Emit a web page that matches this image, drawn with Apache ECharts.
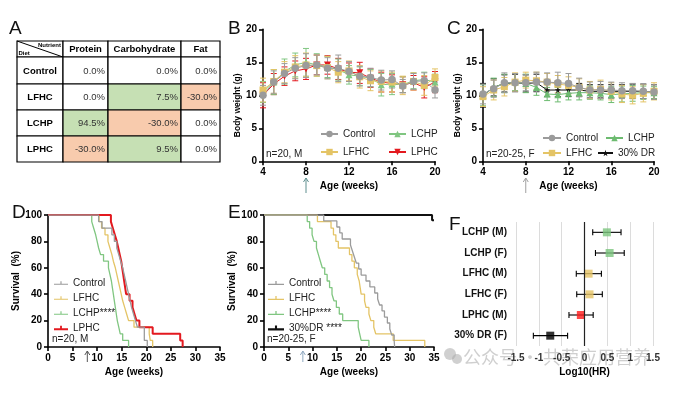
<!DOCTYPE html>
<html><head><meta charset="utf-8">
<script src="https://cdn.jsdelivr.net/npm/echarts@6/dist/echarts.min.js"></script>
<style>html,body{margin:0;padding:0;background:#fff}#c{width:676px;height:394px}</style>
</head><body><div id="c"></div>
<script>
// ---------------- DATA ----------------
// Panel A
const nutrients = ['Protein', 'Carbohydrate', 'Fat'];
const diets = ['Control', 'LFHC', 'LCHP', 'LPHC'];
const dietChange = [[0, 0, 0], [0, 7.5, -30], [94.5, -30, 0], [-30, 9.5, 0]];

// Panels B / C (age in weeks)
const weeks = [4, 5, 6, 7, 8, 9, 10, 11, 12, 13, 14, 15, 16, 17, 18, 19, 20];
const bControl = [10.0, 12.0, 13.3, 14.1, 14.5, 14.6, 14.1, 14.1, 13.6, 12.9, 12.7, 12.3, 12.4, 11.4, 12.1, 12.2, 10.8];
const bControlSd = [1.5, 1.7, 1.5, 1.6, 1.8, 1.5, 1.6, 2.0, 1.5, 1.5, 1.4, 1.5, 1.3, 1.0, 1.2, 1.2, 1.2];
const bLFHC = [10.8, 12.1, 13.5, 14.3, 14.6, 14.5, 14.2, 13.5, 13.7, 12.8, 12.2, 12.1, 12.0, 11.5, 12.1, 11.5, 12.7];
const bLFHCSd = [1.8, 1.8, 1.6, 1.7, 1.8, 1.6, 1.7, 1.6, 1.5, 1.7, 1.5, 1.6, 1.5, 1.4, 1.3, 1.5, 1.3];
const bLCHP = [10.5, 12.0, 13.6, 14.6, 15.0, 14.6, 14.3, 13.9, 13.1, 12.9, 12.6, 11.6, 11.7, 11.6, 12.2, 12.4, 12.0];
const bLCHPSd = [1.6, 1.9, 1.9, 1.8, 2.1, 1.7, 1.6, 1.6, 1.4, 1.4, 1.3, 1.7, 1.6, 1.2, 1.2, 1.1, 1.2];
const bLPHC = [10.0, 11.7, 12.9, 13.7, 14.0, 14.6, 14.6, 14.0, 13.5, 13.4, 12.6, 12.0, 11.8, 11.6, 11.9, 11.2, 12.0];
const bLPHCSd = [1.9, 1.6, 1.4, 1.5, 1.6, 1.5, 1.4, 1.6, 1.4, 1.6, 1.4, 1.5, 1.3, 1.2, 1.1, 1.6, 1.6];

const cControl = [10.2, 11.0, 11.9, 11.9, 11.9, 12.0, 12.0, 11.9, 11.8, 11.2, 10.8, 10.8, 10.8, 10.7, 10.7, 10.6, 10.5];
const cControlSd = [1.5, 1.3, 1.5, 1.4, 1.2, 1.5, 1.4, 1.6, 1.5, 1.4, 1.2, 1.3, 1.2, 1.2, 1.1, 1.1, 1.1];
const cLFHC = [9.8, 10.8, 11.3, 12.0, 12.3, 12.2, 12.0, 11.7, 11.5, 11.2, 10.8, 10.9, 10.6, 10.2, 10.0, 10.3, 10.6];
const cLFHCSd = [1.5, 1.5, 1.4, 1.4, 1.2, 1.3, 1.3, 1.3, 1.3, 1.3, 1.3, 1.4, 1.3, 1.3, 1.3, 1.3, 1.3];
const cLCHP = [10.0, 11.2, 11.8, 12.0, 11.8, 11.2, 10.2, 10.1, 10.3, 10.4, 10.4, 10.3, 10.1, 10.2, 10.3, 10.4, 10.4];
const cLCHPSd = [1.6, 1.4, 1.4, 1.3, 1.4, 1.2, 1.0, 1.1, 1.0, 1.1, 1.0, 1.0, 1.2, 1.2, 1.2, 1.0, 0.9];
const cDR = [10.0, 11.2, 11.8, 11.9, 11.8, 11.9, 10.8, 10.8, 10.8, 10.8, 10.6, 10.6, 10.6, 10.6, 10.6, 10.6, 10.5];
const cDRSd = [1.8, 1.3, 1.3, 1.3, 1.3, 1.3, 1.0, 1.0, 1.0, 1.0, 1.0, 1.0, 1.0, 1.0, 1.1, 1.1, 1.1];

// Panel D survival (male): event times (weeks) and survival (%) after each event
const dControlT = [10.3, 11.0, 13.0, 13.5, 14.0, 14.4, 14.8, 15.2, 15.5, 15.8, 16.1, 16.4, 16.7, 17.0, 17.4, 17.8, 18.2, 19.6, 19.6, 20.2];
const dControlS = [95, 90, 85, 80, 75, 70, 65, 60, 55, 50, 45, 40, 35, 30, 25, 20, 15, 10, 5, 0];
const dLFHCT = [10.4, 10.9, 11.6, 12.2, 12.6, 13.0, 13.3, 13.7, 14.0, 14.3, 14.6, 14.9, 15.2, 15.6, 16.0, 16.4, 17.5, 20.6, 20.8, 21.3];
const dLFHCS = [95, 90, 85, 80, 75, 70, 65, 60, 55, 50, 45, 40, 35, 30, 25, 20, 15, 10, 5, 0];
const dLCHPT = [8.9, 9.3, 9.7, 10.0, 10.3, 10.7, 11.3, 12.3, 12.6, 12.9, 13.1, 13.3, 13.5, 13.7, 13.9, 14.1, 14.4, 14.7, 15.2, 16.4];
const dLCHPS = [95, 90, 85, 80, 75, 70, 65, 60, 55, 50, 45, 40, 35, 30, 25, 20, 15, 10, 5, 0];
const dLPHCT = [12.8, 13.2, 13.6, 14.0, 14.3, 14.6, 14.9, 15.1, 15.3, 15.5, 15.7, 15.9, 16.6, 17.2, 17.6, 18.0, 18.6, 21.3, 26.9, 27.4];
const dLPHCS = [95, 90, 85, 80, 75, 70, 65, 60, 55, 50, 45, 40, 35, 30, 25, 20, 15, 10, 5, 0];

// Panel E survival (female)
const eControlT = [12.3, 15.0, 15.6, 16.1, 17.8, 18.2, 18.6, 19.0, 19.5, 20.0, 21.0, 21.8, 22.8, 23.4, 23.8, 24.3, 24.8, 25.4, 25.9, 26.3, 26.8, 26.9];
const eControlS = [95.5, 90.9, 86.4, 81.8, 77.3, 72.7, 68.2, 63.6, 59.1, 54.5, 50.0, 45.5, 40.9, 36.4, 31.8, 27.3, 22.7, 18.2, 13.6, 9.1, 4.5, 0];
const eLFHCT = [11.0, 13.8, 14.3, 14.8, 15.3, 17.6, 18.1, 18.6, 19.2, 19.6, 19.8, 20.0, 20.7, 21.0, 21.6, 22.0, 22.6, 23.0, 26.6, 33.1];
const eLFHCS = [95, 90, 85, 80, 75, 70, 65, 60, 55, 50, 45, 40, 35, 30, 25, 20, 15, 10, 5, 0];
const eLCHPT = [8.9, 9.4, 9.9, 10.3, 10.8, 11.2, 11.6, 12.0, 12.5, 13.0, 13.5, 14.0, 14.4, 14.9, 15.5, 16.2, 19.4, 19.7, 20.0, 21.6];
const eLCHPS = [95, 90, 85, 80, 75, 70, 65, 60, 55, 50, 45, 40, 35, 30, 25, 20, 15, 10, 5, 0];
const eDRT = [34.6, 35.0];
const eDRS = [96, 96];

// Panel F hazard ratios
const hrLabels = ['LCHP (M)', 'LCHP (F)', 'LFHC (M)', 'LFHC (F)', 'LPHC (M)', '30% DR (F)'];
const hrLog = [0.49, 0.55, 0.09, 0.11, -0.08, -0.75];
const hrLow = [0.18, 0.24, -0.18, -0.17, -0.34, -1.12];
const hrHigh = [0.80, 0.87, 0.37, 0.39, 0.19, -0.37];

// ---------------- STYLE ----------------
const FF = 'Arial, "Liberation Sans", Helvetica, sans-serif';
const GRAY = '#9b9b9b', YEL = '#e4c466', GRN = '#80c681', RED = '#e3191f', BLK = '#111111';
const GREEN_CELL = '#c6e0b4', ORANGE_CELL = '#f8cbad';
const hrColors = ['#7cc67e', '#7cc67e', '#e6c467', '#e6c467', '#ff1a1a', '#000000'];

// table layout (axis units)
const colEdges = [0, 46, 91, 164, 203];
const rowEdges = [0, 16, 43, 69, 95, 121];

const cells = [];
cells.push({r: 0, c: 0, kind: 'corner'});
nutrients.forEach((n, j) => cells.push({r: 0, c: j + 1, kind: 'head', text: n}));
diets.forEach((d, i) => {
  cells.push({r: i + 1, c: 0, kind: 'rowhead', text: d});
  dietChange[i].forEach((v, j) => cells.push({r: i + 1, c: j + 1, kind: 'val', v: v}));
});

function renderCell(params, api) {
  const cell = cells[params.dataIndex];
  const p0 = api.coord([colEdges[cell.c], rowEdges[cell.r]]);
  const p1 = api.coord([colEdges[cell.c + 1], rowEdges[cell.r + 1]]);
  const x = p0[0], y = p0[1], w = p1[0] - p0[0], h = p1[1] - p0[1];
  let fill = '#fff';
  if (cell.kind === 'val') fill = cell.v > 0 ? GREEN_CELL : (cell.v < 0 ? ORANGE_CELL : '#fff');
  const ch = [{type: 'rect', shape: {x, y, width: w, height: h}, style: {fill, stroke: '#000', lineWidth: 1.2}}];
  if (cell.kind === 'corner') {
    ch.push({type: 'line', shape: {x1: x, y1: y, x2: x + w, y2: y + h}, style: {stroke: '#000', lineWidth: 1}});
    ch.push({type: 'text', style: {text: 'Nutrient', x: x + w - 2, y: y + 4, align: 'right', verticalAlign: 'middle', fontSize: 6, fontWeight: 'bold', fontFamily: FF, fill: '#000'}});
    ch.push({type: 'text', style: {text: 'Diet', x: x + 1.5, y: y + h - 4, align: 'left', verticalAlign: 'middle', fontSize: 6, fontWeight: 'bold', fontFamily: FF, fill: '#000'}});
  } else if (cell.kind === 'head' || cell.kind === 'rowhead') {
    ch.push({type: 'text', style: {text: cell.text, x: x + w / 2, y: y + h / 2 + 0.5, align: 'center', verticalAlign: 'middle', fontSize: 9.5, fontWeight: 'bold', fontFamily: FF, fill: '#000'}});
  } else {
    ch.push({type: 'text', style: {text: cell.v.toFixed(1) + '%', x: x + w - 3, y: y + h / 2 + 0.5, align: 'right', verticalAlign: 'middle', fontSize: 9.5, fontFamily: FF, fill: '#333'}});
  }
  return {type: 'group', children: ch};
}

function errV(cap) {
  return function (params, api) {
    const x = api.value(0), m = api.value(1), s = api.value(2);
    const t = api.coord([x, m + s]), b = api.coord([x, m - s]);
    const st = {stroke: api.visual('color'), lineWidth: 1, fill: null};
    return {type: 'group', children: [
      {type: 'line', shape: {x1: t[0], y1: t[1], x2: b[0], y2: b[1]}, style: st},
      {type: 'line', shape: {x1: t[0] - cap, y1: t[1], x2: t[0] + cap, y2: t[1]}, style: st},
      {type: 'line', shape: {x1: b[0] - cap, y1: b[1], x2: b[0] + cap, y2: b[1]}, style: st}
    ]};
  };
}
function errH(params, api) {
  const lo = api.value(0), hi = api.value(1), c = api.value(2);
  const a = api.coord([lo, c]), b = api.coord([hi, c]);
  const st = {stroke: '#000', lineWidth: 1.1, fill: null};
  return {type: 'group', children: [
    {type: 'line', shape: {x1: a[0], y1: a[1], x2: b[0], y2: b[1]}, style: st},
    {type: 'line', shape: {x1: a[0], y1: a[1] - 3, x2: a[0], y2: a[1] + 3}, style: st},
    {type: 'line', shape: {x1: b[0], y1: b[1] - 3, x2: b[0], y2: b[1] + 3}, style: st}
  ]};
}

const STAR = 'path://M50,0 L61,35 L98,35 L68,57 L79,91 L50,70 L21,91 L32,57 L2,35 L39,35 Z';

function growth(name, gi, mean, sd, color, symbol, rotate, size) {
  return [
    {type: 'custom', name: name + ' err', xAxisIndex: gi, yAxisIndex: gi, renderItem: errV(3),
     itemStyle: {color: color, opacity: 0.85}, encode: {x: 0, y: 1},
     data: weeks.map((w, i) => [w, mean[i], sd[i]]), z: 2, silent: true},
    {type: 'line', name: name, xAxisIndex: gi, yAxisIndex: gi, symbol: symbol, symbolRotate: rotate || 0,
     symbolSize: size, color: color, lineStyle: {width: 1, color: color}, itemStyle: {color: color},
     data: weeks.map((w, i) => [w, mean[i]]), z: 3, silent: true}
  ];
}
function km(name, gi, t, s, color, width) {
  const d = [[0, 100]].concat(t.map((x, i) => [x, s[i]]));
  return {type: 'line', name: name, xAxisIndex: gi, yAxisIndex: gi, step: 'end', symbol: 'none',
    color: color, lineStyle: {width: width, color: color}, data: d, silent: true, z: 3};
}

const axBase = {
  axisLine: {show: true, onZero: false, lineStyle: {color: '#000', width: 1.6}},
  axisTick: {show: true, length: 4, lineStyle: {color: '#000', width: 1.6}},
  axisLabel: {color: '#000', fontWeight: 'bold', fontSize: 10, fontFamily: FF, margin: 6},
  splitLine: {show: false}
};
function ax(extra) { return Object.assign({}, JSON.parse(JSON.stringify(axBase)), extra); }
const nameStyle = {color: '#000', fontWeight: 'bold', fontSize: 10, fontFamily: FF};

function leg(items, left, top, extra) {
  return Object.assign({left: left, top: top, padding: 0, orient: 'horizontal', itemWidth: 17, itemHeight: 8,
    itemGap: 8, selectedMode: false, textStyle: {fontSize: 10, fontFamily: FF, color: '#222', padding: [0, 0, 0, 0]},
    formatter: n => n.split('#')[0], data: items}, extra || {});
}
const KMI = 'path://M0,6.5h20v1.6H0z M9.2,3h1.6v4.5H9.2z';
const KMI2 = 'path://M0,6h20v2.6H0z M8.7,2.5h2.6v5H8.7z';

const grid = (l, t, w, h) => ({left: l, top: t, width: w, height: h, containLabel: false, outerBoundsMode: 'none'});

const option = {
  animation: false,
  backgroundColor: '#fff',
  grid: [grid(17, 41, 203, 121), grid(263, 29.3, 172, 132), grid(483, 29.3, 171, 132),
         grid(48, 215, 172, 132), grid(264, 215, 170, 132), grid(516, 222, 137, 124)],
  xAxis: [
    {type: 'value', gridIndex: 0, min: 0, max: 203, show: false},
    ax({type: 'value', gridIndex: 1, min: 4, max: 20, interval: 4, name: 'Age (weeks)', nameLocation: 'middle', nameGap: 20, nameTextStyle: nameStyle}),
    ax({type: 'value', gridIndex: 2, min: 4, max: 20, interval: 4, name: 'Age (weeks)', nameLocation: 'middle', nameGap: 20, nameTextStyle: nameStyle}),
    ax({type: 'value', gridIndex: 3, min: 0, max: 35, interval: 5, name: 'Age (weeks)', nameLocation: 'middle', nameGap: 20, nameTextStyle: nameStyle}),
    ax({type: 'value', gridIndex: 4, min: 0, max: 35, interval: 5, name: 'Age (weeks)', nameLocation: 'middle', nameGap: 20, nameTextStyle: nameStyle}),
    {type: 'value', gridIndex: 5, min: -1.5, max: 1.5, interval: 0.5, axisLine: {show: false}, axisTick: {show: false},
     axisLabel: {color: '#333', fontWeight: 'bold', fontSize: 10, fontFamily: FF, margin: 7},
     splitLine: {show: true, lineStyle: {color: '#dcdcdc', width: 1}},
     name: 'Log10(HR)', nameLocation: 'middle', nameGap: 21, nameTextStyle: nameStyle}
  ],
  yAxis: [
    {type: 'value', gridIndex: 0, min: 0, max: 121, inverse: true, show: false},
    ax({type: 'value', gridIndex: 1, min: 0, max: 20, interval: 5, name: 'Body weight (g)', nameLocation: 'middle', nameGap: 20,
        nameTextStyle: Object.assign({}, nameStyle, {fontSize: 8.5, padding: [0, 20, 0, 0]})}),
    ax({type: 'value', gridIndex: 2, min: 0, max: 20, interval: 5, name: 'Body weight (g)', nameLocation: 'middle', nameGap: 20,
        nameTextStyle: Object.assign({}, nameStyle, {fontSize: 8.5, padding: [0, 20, 0, 0]})}),
    ax({type: 'value', gridIndex: 3, min: 0, max: 100, interval: 20, name: 'Survival  (%)', nameLocation: 'middle', nameGap: 23, nameTextStyle: nameStyle}),
    ax({type: 'value', gridIndex: 4, min: 0, max: 100, interval: 20, name: 'Survival  (%)', nameLocation: 'middle', nameGap: 23, nameTextStyle: nameStyle}),
    {type: 'category', gridIndex: 5, data: hrLabels, inverse: true, axisLine: {show: false}, axisTick: {show: false},
     axisLabel: {color: '#111', fontWeight: 'bold', fontSize: 10, fontFamily: FF, margin: 9}}
  ],
  legend: [
    leg(['Control#B'], 320, 129), leg(['LFHC#B'], 320, 147), leg(['LCHP#B'], 388, 129), leg(['LPHC#B'], 388, 147),
    leg(['Control#C'], 542, 133, {itemWidth: 18}), leg(['LFHC#C'], 542, 148, {itemWidth: 18}),
    leg(['LCHP#C'], 605, 133, {itemWidth: 17}), leg(['30% DR#C'], 597, 148, {itemWidth: 15}),
    leg([{name: 'Control#D', icon: KMI}, {name: 'LFHC#D', icon: KMI}, {name: 'LCHP****#D', icon: KMI}, {name: 'LPHC#D', icon: KMI2}],
        54, 278, {orient: 'vertical', itemWidth: 14, itemHeight: 8, itemGap: 5}),
    leg([{name: 'Control#E', icon: KMI}, {name: 'LFHC#E', icon: KMI}, {name: 'LCHP****#E', icon: KMI}, {name: '30%DR ****#E', icon: KMI2}],
        268, 278, {orient: 'vertical', itemWidth: 16, itemHeight: 8, itemGap: 5})
  ],
  series: [
    {type: 'custom', xAxisIndex: 0, yAxisIndex: 0, renderItem: renderCell, data: cells.map(c => [c.c, c.r]), silent: true},
    ...growth('LPHC#B', 1, bLPHC, bLPHCSd, RED, 'triangle', 180, 7),
    ...growth('LCHP#B', 1, bLCHP, bLCHPSd, GRN, 'triangle', 0, 7),
    ...growth('LFHC#B', 1, bLFHC, bLFHCSd, YEL, 'rect', 0, 7),
    ...growth('Control#B', 1, bControl, bControlSd, GRAY, 'circle', 0, 7.5),
    ...growth('30% DR#C', 2, cDR, cDRSd, BLK, STAR, 0, 6),
    ...growth('LCHP#C', 2, cLCHP, cLCHPSd, '#6dbb70', 'triangle', 0, 7),
    ...growth('LFHC#C', 2, cLFHC, cLFHCSd, YEL, 'rect', 0, 7),
    ...growth('Control#C', 2, cControl, cControlSd, GRAY, 'circle', 0, 7.5),
    km('LCHP****#D', 3, dLCHPT, dLCHPS, GRN, 1.3),
    km('LFHC#D', 3, dLFHCT, dLFHCS, YEL, 1.3),
    km('LPHC#D', 3, dLPHCT, dLPHCS, RED, 2),
    km('Control#D', 3, dControlT, dControlS, GRAY, 1.3),
    km('30%DR ****#E', 4, eDRT, eDRS, BLK, 2),
    km('LCHP****#E', 4, eLCHPT, eLCHPS, GRN, 1.3),
    km('LFHC#E', 4, eLFHCT, eLFHCS, YEL, 1.3),
    km('Control#E', 4, eControlT, eControlS, GRAY, 1.3),
    {type: 'custom', xAxisIndex: 5, yAxisIndex: 5, renderItem: errH, encode: {x: [0, 1], y: 2},
     data: hrLabels.map((l, i) => [hrLow[i], hrHigh[i], i]), silent: true, z: 3},
    {type: 'scatter', xAxisIndex: 5, yAxisIndex: 5, symbol: 'rect', symbolSize: 8, silent: true, z: 4,
     data: hrLabels.map((l, i) => ({value: [hrLog[i], i], itemStyle: {color: hrColors[i]}})),
     markLine: {silent: true, symbol: 'none', label: {show: false}, lineStyle: {color: '#222', width: 1.2, type: 'solid'},
       data: [{xAxis: 0}]}}
  ]
};

const chart = echarts.init(document.getElementById('c'), null, {width: 676, height: 394});
chart.setOption(option);

// annotations
function arrow(gi, y1, y2, color) {
  const x = chart.convertToPixel({xAxisIndex: gi}, 8);
  return {type: 'group', silent: true, children: [
    {type: 'line', shape: {x1: x, y1: y1, x2: x, y2: y2}, style: {stroke: color, lineWidth: 1}},
    {type: 'polyline', shape: {points: [[x - 2.5, y2 + 4], [x, y2], [x + 2.5, y2 + 4]]}, style: {stroke: color, lineWidth: 1, fill: null}}
  ]};
}
const T = (text, x, y, size, extra) => Object.assign({type: 'text', silent: true, x: x, y: y,
  style: Object.assign({text: text, fontSize: size, fontFamily: FF, fill: '#111', verticalAlign: 'middle'}, extra || {})});

chart.setOption({graphic: [
  T('A', 9, 29, 19), T('B', 228, 29, 19), T('C', 447, 29, 19), T('D', 12, 213, 19), T('E', 228, 213, 19), T('F', 449, 225, 19),
  T('n=20, M', 266, 154, 10, {fill: '#222'}), T('n=20-25, F', 486, 154, 10, {fill: '#222'}),
  T('n=20, M', 52, 339, 10, {fill: '#222'}), T('n=20-25, F', 267, 339, 10, {fill: '#222'}),
  arrow(1, 193, 178, '#5f8f8f'), arrow(2, 193, 178, '#a0a0a0'), arrow(3, 362, 351, '#555'), arrow(4, 362, 351, '#8fa8c0'),
  {type: 'circle', silent: true, shape: {cx: 450, cy: 354, r: 6}, style: {fill: 'rgba(170,170,170,0.55)'}},
  {type: 'circle', silent: true, shape: {cx: 457, cy: 359, r: 5}, style: {fill: 'rgba(170,170,170,0.55)'}},
  T('公众号 · 共荣应用营养', 463, 357, 18, {fontFamily: '"Noto Sans CJK SC", sans-serif', fill: 'rgba(160,160,160,0.5)'})
]});
</script>
</body></html>
